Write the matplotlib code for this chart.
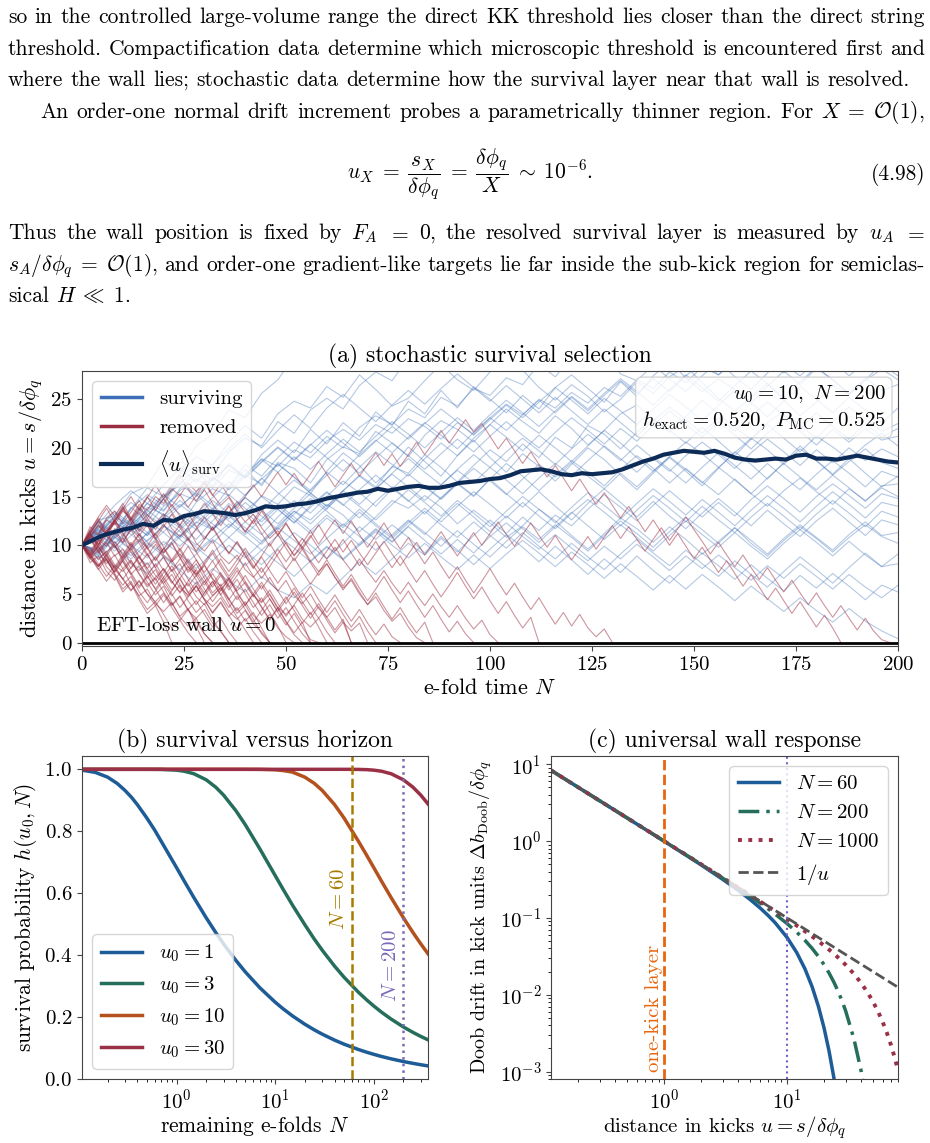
import numpy as np
import matplotlib.pyplot as plt
from matplotlib.lines import Line2D

plt.rcParams['font.family'] = 'serif'
plt.rcParams['font.serif'] = ['cmr10']
plt.rcParams['mathtext.fontset'] = 'cm'
plt.rcParams['axes.formatter.use_mathtext'] = True

# ---------------- data ----------------
# (a) mean of surviving paths, every 2.5 e-folds
mean_surv = [10.0, 10.5, 11.0, 11.3, 11.6, 11.8, 12.2, 12.0, 12.6, 12.5, 13.0, 13.2, 13.5, 13.4,
             13.3, 13.1, 13.3, 13.6, 14.0, 13.9, 14.0, 14.2, 14.3, 14.5, 14.8, 15.0, 15.2, 15.4,
             15.5, 15.8, 15.6, 15.8, 16.0, 16.1, 15.9, 15.9, 16.1, 16.4, 16.5, 16.6, 16.8, 16.9,
             17.2, 17.6, 17.7, 17.8, 17.6, 17.3, 17.2, 17.4, 17.3, 17.4, 17.5, 17.8, 18.2, 18.6,
             18.9, 19.3, 19.5, 19.7, 19.6, 19.5, 19.7, 19.4, 19.0, 18.8, 18.7, 18.8, 18.9, 18.8,
             19.2, 19.3, 18.9, 18.9, 18.8, 19.0, 19.2, 19.0, 18.8, 18.6, 18.5]

# surviving paths, sampled evenly over N = 0..200
surv_paths = [
    [10, 12.1, 11.4, 13.8, 15.2, 14.1, 16.9, 18.3, 17.2, 19.6, 21.0, 20.2, 22.7, 21.5, 23.9, 25.1, 24.0, 26.4, 27.8, 26.9, 29.3, 30.6, 29.4, 31.2, 30.0, 32.5, 31.1, 33.0, 32.2, 30.8, 31.9, 33.4, 32.0, 30.6, 29.1, 30.7, 29.5, 31.3, 32.8, 31.4, 30.1, 28.6, 29.9, 31.5, 30.2, 32.0, 33.1, 31.8, 30.4, 31.7, 32.2],
    [10, 11.8, 13.5, 12.2, 14.9, 13.6, 15.8, 17.5, 16.1, 18.4, 17.0, 19.3, 20.8, 19.5, 21.9, 20.4, 22.6, 21.2, 23.7, 22.3, 24.8, 23.5, 25.9, 24.1, 26.3, 25.0, 23.6, 25.4, 24.0, 26.2, 27.5, 26.1, 24.7, 26.8, 25.3, 27.4, 28.9, 27.2, 25.8, 27.1, 26.0, 24.6, 26.3, 27.9, 26.5, 28.2, 27.0, 25.5, 26.9, 28.1, 27.0],
    [10, 8.9, 10.7, 12.4, 11.0, 13.2, 12.1, 10.6, 12.5, 14.3, 13.0, 15.1, 14.2, 16.0, 15.1, 13.7, 15.6, 17.2, 16.0, 18.1, 17.4, 19.3, 18.0, 16.5, 18.2, 19.8, 18.6, 20.4, 19.0, 21.1, 20.0, 22.3, 21.4, 19.9, 21.6, 23.0, 21.8, 20.5, 22.1, 20.7, 19.2, 20.9, 22.4, 21.0, 19.6, 21.2, 20.1, 18.8, 20.3, 21.5, 20.2],
    [10, 11.2, 9.8, 11.5, 13.1, 12.0, 10.9, 12.8, 14.6, 13.3, 15.2, 16.9, 15.4, 14.0, 15.7, 17.5, 16.2, 18.0, 19.6, 18.3, 17.1, 18.9, 20.5, 19.2, 21.0, 22.4, 21.1, 19.7, 21.3, 20.0, 18.6, 20.2, 21.8, 20.5, 19.0, 17.6, 19.1, 20.6, 19.4, 18.0, 19.5, 21.0, 19.8, 18.3, 19.9, 18.7, 17.2, 18.6, 19.9, 18.5, 17.9],
    [10, 9.1, 10.8, 9.5, 11.3, 12.9, 11.8, 13.5, 12.2, 10.8, 12.4, 11.1, 12.9, 14.6, 13.3, 15.0, 16.6, 15.4, 14.0, 15.8, 17.3, 16.0, 14.7, 16.3, 15.0, 16.8, 18.4, 17.1, 15.6, 17.2, 18.7, 17.5, 16.1, 17.8, 19.2, 17.9, 16.4, 17.9, 16.5, 15.2, 16.8, 15.3, 14.0, 15.6, 16.9, 15.5, 14.2, 15.8, 14.6, 15.9, 15.0],
    [10, 10.9, 9.4, 11.0, 12.6, 11.3, 9.9, 11.6, 10.2, 11.9, 13.4, 12.0, 13.7, 12.3, 14.1, 15.5, 14.2, 12.8, 14.5, 16.0, 14.6, 13.2, 14.9, 16.4, 15.1, 16.8, 15.3, 13.9, 15.5, 14.0, 12.6, 14.3, 15.8, 14.4, 12.9, 14.5, 13.0, 11.7, 13.3, 14.8, 13.4, 12.0, 13.6, 12.2, 10.9, 12.5, 13.8, 12.4, 11.0, 12.6, 12.1],
    [10, 8.7, 9.9, 8.2, 7.1, 8.8, 7.4, 6.0, 7.6, 6.3, 5.2, 6.8, 5.4, 4.6, 6.1, 5.0, 6.7, 8.3, 7.0, 8.6, 10.2, 9.0, 10.7, 9.3, 11.0, 12.6, 11.2, 12.9, 11.5, 13.1, 12.0, 13.7, 15.2, 13.9, 12.5, 14.1, 15.6, 14.2, 12.9, 14.4, 13.0, 14.7, 16.1, 14.8, 13.4, 15.0, 16.3, 15.1, 13.8, 15.3, 14.8],
    [10, 11.5, 10.2, 12.0, 13.6, 12.3, 14.0, 15.4, 14.1, 12.7, 14.4, 13.0, 11.6, 13.2, 14.8, 13.5, 12.0, 13.7, 12.2, 10.9, 12.5, 11.1, 12.8, 14.3, 12.9, 11.4, 13.0, 11.7, 10.3, 11.9, 13.4, 12.0, 10.6, 12.1, 10.8, 9.4, 11.0, 12.5, 11.1, 9.8, 11.3, 9.9, 8.6, 10.2, 11.6, 10.3, 8.9, 10.4, 9.0, 7.8, 9.1],
    [10, 11.1, 12.8, 11.4, 13.1, 14.7, 13.2, 11.9, 13.6, 15.2, 13.8, 12.4, 14.0, 12.6, 11.2, 12.8, 11.5, 10.0, 11.6, 10.3, 11.9, 10.5, 9.1, 10.6, 9.2, 10.9, 12.3, 10.9, 9.6, 11.1, 9.7, 8.4, 9.9, 8.6, 10.1, 8.8, 7.4, 8.9, 7.6, 9.0, 7.7, 6.4, 7.9, 6.6, 8.1, 6.8, 5.5, 7.0, 5.7, 4.6, 5.9],
    [10, 8.6, 10.1, 11.7, 10.4, 12.0, 10.6, 9.3, 10.8, 12.2, 10.9, 9.5, 11.0, 9.7, 8.3, 9.8, 8.5, 10.0, 11.4, 10.0, 8.7, 10.2, 8.8, 7.5, 9.0, 7.6, 9.1, 10.5, 9.2, 7.8, 9.3, 8.0, 6.6, 8.1, 6.8, 5.4, 6.9, 5.5, 7.0, 5.7, 4.3, 5.8, 4.5, 3.2, 4.6, 3.3, 2.1, 3.5, 2.2, 1.2, 0.4],
    [10, 11.4, 13.0, 11.7, 13.4, 15.0, 16.3, 15.0, 16.8, 18.2, 16.9, 18.6, 20.1, 18.8, 20.4, 19.0, 17.6, 19.3, 20.8, 19.5, 21.1, 22.6, 21.3, 19.9, 21.6, 23.1, 21.8, 23.4, 24.9, 23.6, 25.2, 23.8, 25.4, 26.9, 25.6, 27.1, 25.8, 27.4, 28.8, 27.5, 29.0, 30.4, 29.1, 27.7, 29.3, 30.8, 29.4, 31.0, 29.7, 31.2, 30.1],
    [10, 12.2, 14.1, 15.6, 14.3, 16.2, 17.9, 16.5, 18.3, 19.9, 21.4, 20.0, 21.8, 23.4, 22.0, 24.1, 25.5, 24.1, 22.7, 24.4, 25.9, 24.5, 26.1, 27.6, 26.2, 24.8, 26.4, 25.0, 23.6, 25.2, 23.8, 22.4, 24.0, 22.6, 21.2, 22.8, 24.2, 22.9, 21.5, 23.1, 21.7, 23.3, 24.7, 23.4, 22.0, 23.6, 22.2, 20.9, 22.5, 21.1, 22.0],
    [10, 9.2, 10.9, 12.3, 11.0, 12.8, 14.2, 12.9, 11.6, 13.3, 14.9, 13.5, 15.2, 16.7, 15.4, 14.0, 15.6, 17.1, 15.8, 17.4, 18.9, 17.5, 16.2, 17.8, 19.3, 18.0, 19.6, 21.0, 19.7, 18.3, 19.9, 21.4, 20.1, 18.7, 20.3, 18.9, 17.6, 19.2, 20.6, 19.3, 17.9, 19.5, 20.9, 19.6, 18.2, 19.8, 18.5, 20.0, 18.7, 19.9, 19.1],
    [10, 11.0, 12.5, 11.1, 9.8, 11.4, 12.9, 11.6, 13.2, 11.8, 13.5, 15.0, 13.7, 12.3, 13.9, 15.4, 14.1, 15.7, 17.2, 15.9, 14.5, 16.1, 14.8, 16.4, 17.9, 16.6, 15.2, 16.8, 18.3, 17.0, 18.5, 17.1, 15.8, 17.4, 16.0, 17.6, 19.1, 17.8, 16.4, 18.0, 16.7, 15.3, 16.9, 18.4, 17.0, 15.7, 17.2, 15.9, 14.5, 16.1, 16.3],
    [10, 11.6, 10.3, 8.9, 10.5, 12.0, 10.7, 12.3, 13.8, 12.5, 11.1, 12.7, 14.2, 12.9, 11.5, 13.1, 11.8, 13.4, 12.0, 10.7, 12.3, 13.8, 12.4, 14.0, 15.5, 14.2, 12.8, 14.4, 13.0, 11.7, 13.3, 14.7, 13.4, 12.0, 13.6, 15.1, 13.8, 12.4, 14.0, 12.6, 11.3, 12.9, 14.3, 13.0, 11.6, 13.2, 14.6, 13.3, 11.9, 13.5, 12.9],
    [10, 11.3, 12.9, 14.4, 13.1, 14.8, 16.3, 17.9, 16.6, 18.2, 16.9, 18.5, 20.0, 18.7, 20.3, 21.8, 20.5, 19.1, 20.7, 22.2, 20.9, 22.5, 24.0, 22.7, 21.3, 22.9, 24.4, 23.1, 24.7, 26.2, 24.9, 23.5, 25.1, 23.8, 22.4, 24.0, 25.5, 24.2, 22.8, 24.4, 25.9, 24.6, 23.2, 24.8, 26.3, 25.0, 23.6, 25.2, 23.9, 22.6, 24.1],
    [10, 9.0, 7.7, 9.3, 8.0, 9.6, 11.1, 9.8, 8.4, 10.0, 8.7, 10.3, 11.8, 10.5, 9.1, 10.7, 12.2, 10.9, 9.5, 11.1, 12.6, 11.3, 9.9, 11.5, 10.1, 8.8, 10.4, 11.9, 10.6, 12.1, 10.8, 9.4, 11.0, 12.5, 11.2, 9.8, 11.4, 12.9, 11.6, 10.2, 11.8, 10.5, 9.1, 10.7, 12.1, 10.8, 9.5, 11.1, 12.4, 11.0, 11.3],
    [10, 12.4, 11.0, 12.7, 14.3, 13.0, 14.6, 13.2, 14.9, 16.5, 15.1, 16.8, 18.3, 17.0, 15.6, 17.2, 18.8, 17.4, 19.0, 20.5, 19.2, 17.8, 19.4, 20.9, 19.6, 21.2, 22.7, 21.3, 20.0, 21.6, 23.1, 21.8, 20.4, 22.0, 20.7, 22.3, 23.8, 22.4, 21.1, 22.7, 21.3, 19.9, 21.5, 23.0, 21.7, 20.3, 21.9, 20.6, 22.0, 20.8, 21.2],
    [10, 9.4, 11.1, 12.7, 11.3, 10.0, 11.6, 13.1, 11.8, 13.4, 14.9, 13.6, 12.2, 13.8, 15.3, 14.0, 15.6, 14.2, 15.8, 17.3, 16.0, 14.6, 16.2, 17.7, 16.4, 18.0, 16.7, 15.3, 16.9, 18.4, 17.1, 18.7, 20.2, 18.9, 17.5, 19.1, 17.8, 16.4, 18.0, 19.5, 18.2, 16.8, 18.4, 17.0, 15.7, 17.3, 18.7, 17.4, 16.0, 17.6, 17.0],
    [10, 11.3, 9.9, 8.6, 10.2, 8.9, 7.5, 9.1, 10.6, 9.3, 7.9, 9.5, 8.2, 6.8, 8.4, 9.9, 8.6, 10.2, 11.7, 10.4, 12.0, 13.5, 12.1, 10.8, 12.4, 11.0, 9.7, 11.3, 9.9, 8.6, 10.2, 8.8, 7.5, 9.1, 10.6, 9.2, 7.9, 9.5, 8.1, 6.8, 8.4, 7.0, 5.7, 7.3, 8.8, 7.5, 6.1, 7.7, 9.2, 7.8, 8.1],
    [10, 11.7, 13.3, 12.0, 13.7, 15.2, 13.9, 15.5, 17.0, 15.7, 17.3, 18.8, 17.5, 19.1, 17.8, 19.4, 20.9, 19.6, 21.2, 22.7, 21.4, 20.0, 21.6, 23.1, 21.8, 23.4, 24.9, 23.6, 22.2, 23.8, 25.3, 24.0, 25.6, 27.1, 25.8, 24.4, 26.0, 27.5, 26.2, 24.8, 26.4, 27.9, 26.6, 25.2, 26.8, 28.3, 27.0, 25.6, 27.2, 25.9, 26.5],
    [10, 9.3, 10.9, 9.6, 11.2, 12.7, 11.4, 10.0, 11.6, 13.1, 11.8, 10.4, 12.0, 13.5, 12.2, 13.8, 15.3, 14.0, 12.6, 14.2, 15.7, 14.4, 13.0, 14.6, 13.3, 11.9, 13.5, 15.0, 13.7, 12.3, 13.9, 15.4, 14.1, 12.7, 14.3, 15.8, 14.5, 13.1, 14.7, 13.4, 12.0, 13.6, 15.1, 13.8, 12.4, 14.0, 15.5, 14.2, 12.8, 14.4, 14.0],
    [10, 12.6, 13.0, 15.3, 16.1, 18.7, 17.5, 20.2, 21.4, 23.9, 23.1, 25.6, 27.0, 29.4, 28.3, 30.6, 31.9, 30.4, 32.8, 31.6, 33.9, 32.2, 30.8, 31.5, 33.7, 32.1, 29.9, 30.6, 32.3, 31.0, 29.2, 28.1, 29.8, 27.6, 26.9, 28.5, 27.1, 25.8, 27.4, 28.9, 27.3, 26.0, 27.7, 29.5, 28.2, 30.1, 29.0, 27.4, 28.8, 27.9, 29.3],
    [10, 11.9, 11.2, 13.7, 15.9, 15.0, 17.4, 19.1, 18.2, 20.6, 22.3, 21.0, 23.5, 24.8, 24.1, 26.3, 25.2, 27.5, 26.0, 24.3, 25.1, 26.9, 28.6, 27.0, 25.9, 27.8, 29.1, 28.0, 26.2, 24.9, 26.5, 25.3, 23.7, 25.0, 26.8, 25.6, 27.3, 28.4, 26.7, 25.1, 23.8, 25.2, 26.6, 24.9, 23.3, 24.7, 26.4, 25.5, 27.0, 28.6, 27.4],
    [10, 10.4, 12.3, 11.5, 13.9, 13.2, 12.0, 14.4, 15.8, 15.1, 17.2, 16.3, 18.5, 17.9, 16.4, 18.8, 20.1, 19.4, 21.7, 20.5, 19.1, 21.3, 22.8, 21.9, 20.6, 22.4, 24.0, 22.7, 21.5, 23.3, 22.0, 20.3, 21.8, 23.5, 24.4, 22.9, 21.6, 23.2, 24.9, 23.5, 22.1, 20.9, 22.6, 23.8, 22.3, 21.0, 22.7, 24.2, 23.0, 21.7, 22.5],
    [10, 9.5, 11.6, 12.8, 11.9, 14.0, 15.3, 14.6, 16.9, 16.0, 18.3, 17.1, 19.0, 20.6, 19.5, 21.2, 20.0, 22.1, 23.3, 22.4, 24.0, 23.1, 25.2, 24.3, 26.1, 25.4, 27.2, 26.5, 28.6, 27.3, 29.4, 28.1, 30.0, 29.2, 31.1, 30.4, 29.0, 30.7, 32.0, 30.9, 29.6, 31.3, 30.1, 28.8, 30.2, 31.6, 30.5, 29.1, 30.6, 31.9, 30.8],
    [10, 11.7, 10.8, 12.1, 10.3, 9.2, 10.9, 12.4, 11.6, 13.0, 11.5, 10.1, 11.8, 13.5, 12.6, 14.2, 13.1, 11.4, 12.9, 14.6, 13.8, 15.1, 13.9, 12.2, 13.6, 12.3, 10.8, 12.0, 13.7, 12.5, 11.0, 9.6, 11.2, 12.8, 11.7, 10.3, 11.9, 10.6, 9.1, 10.4, 11.8, 10.2, 8.9, 10.5, 11.9, 10.7, 9.3, 10.8, 12.1, 10.9, 10.2],
    [10, 12.5, 11.3, 13.9, 12.4, 14.8, 16.6, 15.2, 13.7, 15.9, 17.8, 16.1, 18.4, 17.0, 15.3, 17.6, 19.5, 18.2, 16.4, 18.0, 20.1, 18.6, 17.1, 19.2, 20.8, 19.0, 17.5, 19.4, 18.1, 16.6, 18.3, 20.0, 18.8, 17.2, 15.7, 17.4, 19.0, 17.6, 16.1, 17.9, 19.6, 18.3, 16.8, 18.5, 20.2, 18.7, 17.3, 18.9, 17.4, 16.0, 17.1],
    [10, 9.6, 11.3, 10.0, 8.7, 10.4, 9.1, 7.6, 9.2, 10.8, 9.4, 8.0, 9.7, 11.3, 10.0, 8.6, 10.2, 11.9, 10.6, 12.1, 10.8, 9.2, 10.9, 9.5, 8.0, 9.6, 11.1, 9.8, 8.3, 9.9, 8.5, 7.0, 8.6, 7.2, 8.9, 7.4, 6.1, 7.7, 9.2, 7.9, 6.5, 8.0, 6.6, 5.3, 6.9, 5.6, 7.1, 5.8, 4.4, 5.9, 5.2],
    [10, 11.0, 12.9, 12.1, 14.3, 13.5, 15.6, 16.8, 15.9, 17.7, 17.0, 18.9, 18.1, 19.8, 19.0, 20.7, 21.9, 20.8, 22.4, 21.5, 23.0, 22.2, 20.9, 22.6, 21.4, 23.1, 24.5, 23.4, 25.0, 24.1, 25.7, 24.6, 26.2, 25.3, 27.0, 26.1, 27.8, 26.7, 28.3, 27.5, 29.0, 28.2, 29.7, 28.6, 27.4, 28.9, 30.2, 29.1, 30.4, 29.5, 30.9],
]

# removed paths, one value every 2 e-folds until they reach the wall
removed_paths = [
    [10, 8.6, 9.5, 7.8, 6.9, 5.2, 6.1, 4.4, 3.0, 3.8, 2.1, 0.0],
    [10, 11.2, 9.7, 8.9, 10.1, 8.3, 7.0, 7.9, 6.2, 4.9, 5.8, 4.1, 2.7, 3.5, 1.6, 0.0],
    [10, 9.1, 10.4, 11.5, 10.0, 8.7, 9.8, 8.2, 6.6, 7.5, 6.0, 4.8, 5.9, 4.3, 3.1, 4.0, 2.4, 1.1, 0.0],
    [10, 10.9, 12.1, 11.0, 12.4, 11.2, 9.8, 10.6, 9.1, 7.7, 8.8, 7.3, 8.1, 6.5, 5.2, 6.3, 4.8, 5.6, 4.0, 2.6, 1.3, 0.0],
    [10, 8.8, 7.5, 8.6, 7.1, 5.9, 6.8, 5.2, 4.1, 5.3, 6.4, 5.0, 3.6, 4.7, 5.9, 4.4, 3.0, 4.1, 2.7, 3.6, 2.2, 3.1, 1.5, 0.0],
    [10, 11.6, 12.8, 11.3, 12.5, 13.9, 12.4, 11.0, 12.1, 10.6, 9.2, 10.3, 8.8, 7.4, 8.5, 7.0, 5.7, 6.9, 5.4, 6.5, 5.0, 3.6, 4.6, 3.1, 1.7, 0.0],
    [10, 9.0, 7.9, 9.1, 10.4, 9.0, 7.6, 8.8, 7.3, 6.0, 7.2, 8.5, 7.1, 5.8, 6.9, 5.5, 4.2, 5.4, 6.6, 5.2, 3.9, 5.0, 3.7, 2.4, 3.6, 2.2, 1.0, 2.1, 0.0],
    [10, 11.3, 10.1, 11.5, 12.7, 14.0, 12.6, 13.8, 12.4, 11.0, 12.2, 10.8, 9.5, 10.7, 9.3, 8.0, 9.2, 7.8, 6.5, 7.7, 6.3, 5.0, 6.2, 4.9, 3.5, 4.7, 3.3, 2.0, 3.1, 1.6, 0.0],
    [10, 8.7, 9.9, 8.5, 7.2, 8.4, 7.0, 5.6, 6.8, 5.5, 4.1, 5.3, 6.6, 5.2, 3.9, 5.1, 6.3, 4.9, 6.1, 7.4, 6.0, 4.7, 5.9, 4.5, 3.2, 4.4, 5.6, 4.2, 2.9, 4.0, 2.6, 1.3, 2.4, 0.0],
    [10, 11.4, 12.6, 11.2, 12.5, 13.8, 12.4, 13.7, 15.0, 13.6, 14.8, 13.4, 12.1, 13.3, 11.9, 10.6, 11.8, 10.4, 9.1, 10.3, 8.9, 7.6, 8.8, 7.4, 6.1, 7.3, 5.9, 4.6, 5.8, 4.4, 3.1, 4.3, 2.9, 1.6, 2.7, 1.2, 0.0],
    [10, 9.2, 10.5, 9.1, 7.8, 9.0, 10.3, 8.9, 7.6, 8.8, 7.4, 6.1, 7.3, 8.6, 7.2, 5.9, 7.1, 5.7, 4.4, 5.6, 6.9, 5.5, 4.2, 5.4, 4.0, 2.7, 3.9, 5.1, 3.8, 2.5, 3.7, 4.9, 3.5, 2.2, 3.4, 2.0, 0.8, 1.9, 0.6, 0.0],
    [10, 11.2, 12.5, 13.8, 12.4, 13.7, 15.0, 13.6, 14.9, 16.2, 14.8, 16.0, 17.2, 15.8, 14.5, 15.7, 14.3, 12.9, 14.1, 12.7, 11.4, 12.6, 11.2, 9.9, 11.1, 9.7, 8.4, 9.6, 8.2, 6.9, 8.1, 6.7, 5.4, 6.6, 5.2, 3.9, 5.1, 3.7, 2.4, 3.6, 2.2, 1.0, 2.1, 0.0],
    [10, 8.8, 10.0, 11.3, 9.9, 8.6, 9.8, 11.1, 9.7, 8.4, 9.6, 10.9, 12.1, 10.7, 9.4, 10.6, 11.9, 10.5, 9.2, 10.4, 9.0, 7.7, 8.9, 10.2, 8.8, 7.5, 8.7, 7.3, 6.0, 7.2, 8.5, 7.1, 5.8, 7.0, 5.6, 4.3, 5.5, 6.8, 5.4, 4.1, 5.3, 3.9, 2.6, 3.8, 2.4, 1.1, 2.2, 0.9, 0.0],
    [10, 9.1, 7.8, 8.6, 7.0, 5.5, 6.3, 4.7, 3.4, 4.2, 2.9, 1.5, 2.3, 1.0, 0.0],
    [10, 10.8, 9.4, 8.1, 9.0, 7.6, 8.5, 7.0, 5.7, 6.6, 5.2, 3.9, 4.8, 3.4, 4.3, 2.9, 1.6, 2.5, 1.1, 0.0],
    [10, 11.5, 12.9, 14.1, 13.0, 14.3, 12.8, 11.4, 12.3, 10.8, 9.3, 10.2, 8.7, 7.2, 8.1, 6.6, 5.1, 6.0, 4.5, 3.0, 3.9, 2.4, 0.9, 0.0],
    [10, 8.9, 7.6, 6.3, 7.4, 8.6, 7.2, 5.8, 6.9, 5.5, 6.7, 7.9, 6.5, 5.1, 6.2, 4.8, 6.0, 7.2, 5.8, 4.4, 5.5, 4.1, 2.8, 3.9, 2.5, 3.6, 2.2, 0.9, 0.0],
    [10, 11.1, 9.8, 11.0, 12.3, 10.9, 12.2, 13.4, 12.0, 10.7, 11.9, 13.2, 11.8, 10.5, 11.7, 12.9, 11.5, 12.8, 14.0, 12.6, 11.3, 12.5, 13.8, 12.4, 11.1, 12.3, 10.9, 9.6, 10.8, 12.1, 10.7, 9.4, 10.6, 9.2, 7.9, 9.1, 10.4, 9.0, 7.7, 8.9, 7.5, 6.2, 7.4, 6.0, 4.7, 5.9, 7.2, 5.8, 4.5, 5.7, 4.3, 3.0, 4.2, 2.8, 1.5, 2.6, 0.0],
    [10, 9.0, 10.2, 8.9, 7.6, 8.8, 10.1, 8.7, 9.9, 11.2, 9.8, 8.5, 9.7, 8.3, 7.0, 8.2, 9.5, 8.1, 6.8, 8.0, 9.3, 7.9, 6.6, 7.8, 9.1, 10.3, 8.9, 10.2, 11.5, 10.1, 11.4, 12.6, 11.2, 12.5, 11.1, 9.8, 11.0, 12.3, 10.9, 9.6, 10.8, 9.4, 8.1, 9.3, 7.9, 6.6, 7.8, 6.4, 5.1, 6.3, 7.6, 6.2, 4.9, 6.1, 4.7, 3.4, 4.6, 3.2, 1.9, 3.1, 1.7, 2.9, 1.5, 0.6, 1.4, 0.0],
    [10, 11.2, 10.0, 11.3, 12.6, 11.4, 12.7, 14.0, 12.8, 14.1, 15.3, 14.0, 15.2, 13.9, 15.1, 16.4, 15.1, 16.3, 15.0, 13.8, 15.0, 16.2, 15.0, 16.3, 17.5, 16.2, 17.4, 16.1, 17.3, 18.6, 17.3, 16.0, 17.2, 18.4, 17.1, 18.3, 19.5, 18.2, 19.4, 18.1, 19.3, 20.6, 19.3, 20.5, 21.8, 20.5, 21.7, 22.9, 21.6, 22.5, 21.2, 19.9, 21.0, 19.7, 18.4, 19.6, 18.3, 17.0, 18.2, 16.9, 15.6, 16.8, 15.5, 14.2, 15.4, 14.1, 12.8, 14.0, 12.7, 11.4, 12.6, 11.3, 10.0, 11.2, 9.9, 8.6, 9.8, 8.5, 7.2, 8.4, 7.1, 5.8, 7.0, 5.7, 4.4, 5.6, 4.3, 3.0, 4.2, 2.9, 1.6, 2.8, 1.5, 0.0],
    [10, 9.0, 7.8, 9.0, 7.7, 6.5, 7.7, 8.9, 7.6, 6.4, 7.6, 6.3, 5.1, 6.3, 7.5, 6.2, 7.4, 8.6, 7.3, 8.5, 9.7, 8.4, 7.2, 8.4, 9.6, 8.3, 9.5, 10.7, 9.4, 8.2, 9.4, 10.6, 9.3, 10.5, 9.2, 8.0, 9.2, 10.4, 9.1, 7.9, 9.1, 10.3, 9.0, 10.2, 11.4, 10.1, 8.9, 10.1, 11.3, 10.0, 11.2, 12.4, 11.1, 9.9, 11.1, 12.3, 11.0, 9.8, 11.0, 9.7, 8.5, 9.7, 10.9, 9.6, 10.8, 12.0, 10.7, 11.9, 10.6, 9.4, 10.6, 11.8, 10.5, 11.7, 12.9, 11.6, 10.4, 9.1, 10.3, 9.0, 7.8, 9.0, 7.7, 6.5, 7.7, 6.4, 5.2, 6.4, 5.1, 3.9, 5.1, 3.8, 2.6, 3.8, 2.5, 1.3, 2.5, 1.2, 0.3, 0.0],
    [10, 11.3, 12.4, 11.0, 9.7, 10.8, 9.3, 8.0, 9.1, 7.7, 6.4, 7.5, 6.0, 4.7, 5.8, 4.4, 3.1, 4.2, 2.8, 1.4, 2.5, 1.1, 0.0],
    [10, 9.3, 8.1, 6.8, 7.9, 6.5, 5.3, 6.4, 5.0, 3.8, 4.9, 3.6, 2.3, 3.4, 2.1, 0.9, 0.0],
    [10, 11.0, 10.1, 11.4, 12.6, 11.3, 10.0, 11.2, 9.8, 8.5, 9.7, 8.3, 9.5, 8.1, 6.8, 8.0, 6.6, 5.3, 6.5, 5.1, 3.8, 5.0, 3.6, 2.3, 3.5, 2.1, 0.8, 0.0],
    [10, 8.9, 9.9, 8.5, 7.3, 8.4, 9.6, 8.2, 6.9, 8.1, 6.7, 5.4, 6.6, 7.8, 6.4, 5.1, 6.3, 4.9, 3.6, 4.8, 3.4, 2.1, 3.3, 4.5, 3.1, 1.8, 3.0, 1.6, 0.3, 0.0],
    [10, 10.6, 9.2, 10.4, 11.7, 10.3, 11.6, 10.2, 8.9, 10.1, 8.7, 7.4, 8.6, 9.9, 8.5, 7.2, 8.4, 7.0, 5.7, 6.9, 8.2, 6.8, 5.5, 6.7, 5.3, 4.0, 5.2, 3.8, 2.5, 3.7, 2.3, 1.0, 2.1, 0.0],
    [10, 10.7, 9.5, 10.3, 8.9, 9.6, 8.1, 7.4, 8.2, 6.9, 6.1, 7.0, 5.6, 4.9, 5.8, 4.5, 3.7, 4.6, 3.2, 2.4, 3.3, 1.9, 1.1, 0.0],
    [10, 9.4, 10.6, 9.9, 11.2, 10.3, 11.7, 10.8, 9.6, 10.4, 9.0, 8.3, 9.1, 7.8, 7.0, 7.9, 6.5, 5.8, 6.7, 5.3, 6.2, 4.8, 4.1, 5.0, 3.6, 2.9, 3.8, 2.4, 1.6, 2.5, 1.1, 0.0],
    [10, 8.2, 8.9, 7.3, 6.4, 7.6, 6.0, 4.8, 5.5, 4.0, 3.2, 4.1, 2.6, 1.7, 2.5, 0.9, 0.0],
    [10, 11.9, 11.1, 12.8, 13.5, 12.2, 13.4, 14.6, 13.1, 12.3, 13.2, 11.7, 10.9, 11.8, 10.2, 9.4, 10.5, 8.9, 8.1, 9.0, 7.5, 6.7, 7.7, 6.2, 5.3, 6.4, 4.8, 4.0, 5.0, 3.5, 2.6, 3.6, 2.1, 1.2, 2.0, 0.0],
    [10, 9.7, 8.5, 9.4, 8.0, 7.3, 8.4, 7.1, 5.9, 6.7, 7.6, 6.3, 5.2, 6.1, 4.7, 3.9, 4.8, 5.7, 4.4, 3.3, 4.2, 2.8, 2.0, 2.9, 1.5, 0.6, 0.0],
    [10, 10.9, 12.0, 11.1, 12.4, 13.6, 12.7, 11.5, 12.8, 11.6, 12.9, 14.2, 13.0, 11.9, 13.1, 14.3, 13.2, 12.0, 13.3, 14.5, 13.4, 12.2, 13.5, 12.3, 11.0, 12.2, 10.9, 9.8, 11.0, 9.7, 8.6, 9.8, 8.5, 7.4, 8.6, 7.3, 6.2, 7.4, 6.1, 5.0, 6.2, 4.9, 3.8, 5.0, 3.7, 2.6, 3.8, 2.5, 1.4, 2.3, 0.8, 0.0],
    [10, 8.6, 7.9, 8.8, 7.5, 6.6, 5.4, 6.3, 5.0, 4.2, 5.1, 3.8, 4.7, 3.3, 2.5, 3.4, 2.0, 1.2, 0.0],
    [10, 11.5, 11.0, 12.6, 12.1, 13.5, 12.8, 14.2, 13.6, 15.0, 14.3, 15.8, 15.1, 16.4, 15.5, 16.6, 15.2, 14.1, 14.9, 13.5, 12.4, 13.2, 11.8, 10.7, 11.5, 10.1, 9.0, 9.8, 8.4, 7.3, 8.1, 6.7, 5.6, 6.4, 5.0, 3.9, 4.7, 3.3, 2.2, 3.0, 1.6, 0.5, 0.0],
]

# (b) survival probability h(u0, N)
N_rem = [0.11, 0.15, 0.2, 0.25, 0.3, 0.35, 0.4, 0.5, 0.6, 0.7, 1, 1.2, 1.5, 2, 2.5, 3, 4, 5, 7, 10,
         12, 15, 20, 25, 30, 40, 50, 70, 85, 100, 120, 150, 200, 250, 300, 355]
h_u1 = [0.9973, 0.9901, 0.9747, 0.9545, 0.9319, 0.9093, 0.8862, 0.8427, 0.8040, 0.7674, 0.6827,
        0.6386, 0.5858, 0.5205, 0.4729, 0.4363, 0.3829, 0.3453, 0.2945, 0.2482, 0.2271, 0.2037,
        0.1769, 0.1585, 0.1449, 0.1256, 0.1125, 0.0952, 0.0864, 0.0797, 0.0727, 0.0651, 0.0564,
        0.0505, 0.0460, 0.0423]
h_u3 = [1.0] * 8 + [0.9999, 0.9997, 0.9973, 0.9938, 0.9857, 0.9661, 0.9422, 0.9167, 0.8664, 0.8203,
                    0.7430, 0.6572, 0.6135, 0.5614, 0.4983, 0.4514, 0.4161, 0.3647, 0.3286, 0.2800,
                    0.2551, 0.2358, 0.2157, 0.1935, 0.1680, 0.1505, 0.1375, 0.1266]
h_u10 = [1.0] * 18 + [0.9998, 0.9984, 0.9960, 0.9910, 0.9747, 0.9545, 0.9319, 0.8862, 0.8427, 0.7674,
                      0.7219, 0.6827, 0.6386, 0.5858, 0.5205, 0.4729, 0.4363, 0.4044]
h_u30 = [1.0] * 27 + [0.9997, 0.9989, 0.9973, 0.9938, 0.9857, 0.9661, 0.9422, 0.9167, 0.8883]
u0_labels = ['$u_0 = 1$', '$u_0 = 3$', '$u_0 = 10$', '$u_0 = 30$']

# (c) Doob drift
u_grid = [0.12, 0.2, 0.3, 0.5, 0.7, 1, 1.5, 2, 3, 4, 5, 6, 7, 8, 10, 12, 14, 16, 18, 20, 22,
          24, 26, 28, 30, 35, 40, 45, 50, 55, 60, 65, 70, 75, 80]
drift_N60 = [8.333, 4.999, 3.332, 1.997, 1.425, 0.9944, 0.6583, 0.4889, 0.3170, 0.2285, 0.1737,
             0.1359, 0.1080, 0.08655, 0.05568, 0.03531, 0.02165, 0.01270, 0.007067, 0.003711,
             0.001833, 0.000849, 0.000369, 0.000150]
drift_N200 = [8.333, 5.0, 3.333, 1.9992, 1.4274, 0.9983, 0.6642, 0.4967, 0.3283, 0.2434, 0.1918,
              0.1569, 0.1316, 0.1122, 0.08442, 0.06518, 0.05099, 0.04009, 0.03150, 0.02463,
              0.01911, 0.01469, 0.01115, 0.008345, 0.006155, 0.002674, 0.001038, 0.000358]
drift_N1000 = [8.333, 5.0, 3.333, 1.9998, 1.4283, 0.9997, 0.6662, 0.4993, 0.3323, 0.2487, 0.1983,
               0.1647, 0.1405, 0.1223, 0.09667, 0.07942, 0.06689, 0.05734, 0.04981, 0.04368,
               0.03859, 0.03426, 0.03055, 0.02732, 0.02448, 0.01869, 0.01428, 0.01085, 0.008157,
               0.006057, 0.004427, 0.003178, 0.002238, 0.001543, 0.001040]
inv_u_x = [0.12, 80]
inv_u_y = [8.333, 0.0125]

# ---------------- figure ----------------
W, H = 930, 1143
fig = plt.figure(figsize=(W / 100, H / 100), dpi=100)
renderer = fig.canvas.get_renderer()
BODY = 15.5


def put_line(tokens, base_px, x0=8, x1=925, justify=True):
    y = 1 - base_px / H
    texts = [fig.text(0, y, t, fontsize=BODY, va='baseline', ha='left') for t in tokens]
    widths = [t.get_window_extent(renderer).width for t in texts]
    if justify and len(tokens) > 1:
        gap = (x1 - x0 - sum(widths)) / (len(tokens) - 1)
    else:
        gap = 0.333 * BODY * 100 / 72
    x = x0
    for t, w in zip(texts, widths):
        t.set_x(x / W)
        x += w + gap


put_line("so in the controlled large-volume range the direct KK threshold lies closer than the direct string".split(), 23)
put_line("threshold. Compactification data determine which microscopic threshold is encountered first and".split(), 55)
put_line("where the wall lies; stochastic data determine how the survival layer near that wall is resolved.".split(), 86, justify=False)
put_line("An order-one normal drift increment probes a parametrically thinner region. For".split()
         + [r"$X \;=\; \mathcal{O}(1)$,"], 118, x0=40)
fig.text(470 / W, 1 - 175 / H,
         r"$u_X \;=\; \dfrac{s_X}{\delta\phi_q} \;=\; \dfrac{\delta\phi_q}{X} \;\sim\; 10^{-6}.$",
         fontsize=BODY, ha='center', va='center')
fig.text(925 / W, 1 - 175 / H, "(4.98)", fontsize=BODY, ha='right', va='center')
put_line("Thus the wall position is fixed by".split() + ["$F_A$", "$=$", "$0$,"]
         + "the resolved survival layer is measured by".split() + ["$u_A$", "$=$"], 239)
put_line([r"$s_A/\delta\phi_q \;=\; \mathcal{O}(1)$,"]
         + "and order-one gradient-like targets lie far inside the sub-kick region for semiclas-".split(), 271)
put_line(["sical", r"$H \;\ll\; 1$."], 302, justify=False)

ax_a = fig.add_axes([82 / W, 1 - 646 / H, (898 - 82) / W, (646 - 371) / H])
ax_b = fig.add_axes([82 / W, 1 - 1079 / H, (428 - 82) / W, (1079 - 756) / H])
ax_c = fig.add_axes([551 / W, 1 - 1079 / H, (898 - 551) / W, (1079 - 756) / H])

c_surv, c_rem, c_mean = '#3c6fb7', '#9b2d40', '#0d2b57'
FS = 15

# ---- (a)
for p in surv_paths:
    ax_a.plot(np.linspace(0, 200, len(p)), p, color=c_surv, lw=0.8, alpha=0.38)
for p in removed_paths:
    ax_a.plot(2 * np.arange(len(p)), p, color=c_rem, lw=0.8, alpha=0.5)
ax_a.plot(np.linspace(0, 200, len(mean_surv)), mean_surv, color=c_mean, lw=3)
ax_a.axhline(0, color='black', lw=2)
ax_a.set_xlim(0, 200)
ax_a.set_ylim(-0.35, 27.9)
ax_a.set_xticks(np.arange(0, 201, 25))
ax_a.set_yticks(np.arange(0, 26, 5))
ax_a.set_xlabel('e-fold time $N$', fontsize=16, labelpad=3)
ax_a.set_ylabel(r'distance in kicks $u = s/\delta\phi_q$', fontsize=16)
ax_a.set_title('(a) stochastic survival selection', fontsize=17, pad=6)
ax_a.text(3.5, 1.2, 'EFT-loss wall $u = 0$', fontsize=FS)
handles = [Line2D([], [], color=c_surv, lw=2.5), Line2D([], [], color=c_rem, lw=2.5),
           Line2D([], [], color=c_mean, lw=3)]
ax_a.legend(handles, ['surviving', 'removed', r'$\langle u\rangle_{\rm surv}$'], loc='upper left',
            fontsize=FS, framealpha=0.8, edgecolor='#cccccc')
ax_a.text(0.985, 0.955, "$u_0 = 10,\\ N = 200$\n$h_{\\rm exact} = 0.520,\\ P_{\\rm MC} = 0.525$",
          transform=ax_a.transAxes, ha='right', va='top', fontsize=FS, multialignment='right',
          bbox=dict(boxstyle='round,pad=0.3', fc='white', ec='#cccccc', alpha=0.8))

# ---- (b)
b_cols = ['#1d5c96', '#266e5c', '#b3511f', '#9a3046']
for h, c, lab in zip([h_u1, h_u3, h_u10, h_u30], b_cols, u0_labels):
    ax_b.plot(N_rem, h, color=c, lw=2.5, label=lab)
ax_b.axvline(60, color='#a67c00', ls='--', lw=1.8)
ax_b.axvline(200, color='#7b68b8', ls=':', lw=1.8)
ax_b.text(55, 0.48, '$N = 60$', rotation=90, color='#a67c00', fontsize=FS, ha='right', va='bottom')
ax_b.text(185, 0.25, '$N = 200$', rotation=90, color='#7b68b8', fontsize=FS, ha='right', va='bottom')
ax_b.set_xscale('log')
ax_b.set_xlim(0.11, 355)
ax_b.set_ylim(0, 1.043)
ax_b.set_yticks(np.arange(0, 1.01, 0.2))
ax_b.set_xlabel('remaining e-folds $N$', fontsize=15.5, labelpad=1)
ax_b.set_ylabel('survival probability $h(u_0, N)$', fontsize=15.5)
ax_b.set_title('(b) survival versus horizon', fontsize=17, pad=6)
ax_b.legend(loc='lower left', fontsize=FS, framealpha=0.8, edgecolor='#cccccc')

# ---- (c)
ax_c.plot(u_grid[:len(drift_N60)], drift_N60, color='#1d5c96', lw=2.5, label='$N = 60$')
ax_c.plot(u_grid[:len(drift_N200)], drift_N200, color='#266e5c', lw=2.5, ls=(0, (6, 2, 1, 2)),
          label='$N = 200$')
ax_c.plot(u_grid, drift_N1000, color='#9a3046', lw=2.8, ls=':', label='$N = 1000$')
ax_c.plot(inv_u_x, inv_u_y, color='#555555', lw=2, ls='--', label='$1/u$')
ax_c.axvline(1, color='#e8650c', ls='--', lw=2)
ax_c.axvline(10, color='#7b5cc8', ls=':', lw=1.5)
ax_c.text(0.97, 1.0e-3, 'one-kick layer', rotation=90, color='#e8650c', fontsize=FS,
          ha='right', va='bottom')
ax_c.set_xscale('log')
ax_c.set_yscale('log')
ax_c.set_xlim(0.12, 80)
ax_c.set_ylim(8e-4, 12.8)
ax_c.set_xlabel(r'distance in kicks $u = s/\delta\phi_q$', fontsize=15, labelpad=1)
ax_c.set_ylabel(r'Doob drift in kick units $\Delta b_{\rm Doob}/\delta\phi_q$', fontsize=14.5)
ax_c.set_title('(c) universal wall response', fontsize=17, pad=6)
ax_c.legend(loc='upper right', fontsize=FS, framealpha=0.8, edgecolor='#cccccc')

for ax in (ax_a, ax_b, ax_c):
    ax.tick_params(labelsize=FS, color='#444444')
    for s in ax.spines.values():
        s.set_color('#444444')

fig.savefig('out.png', dpi=100)
